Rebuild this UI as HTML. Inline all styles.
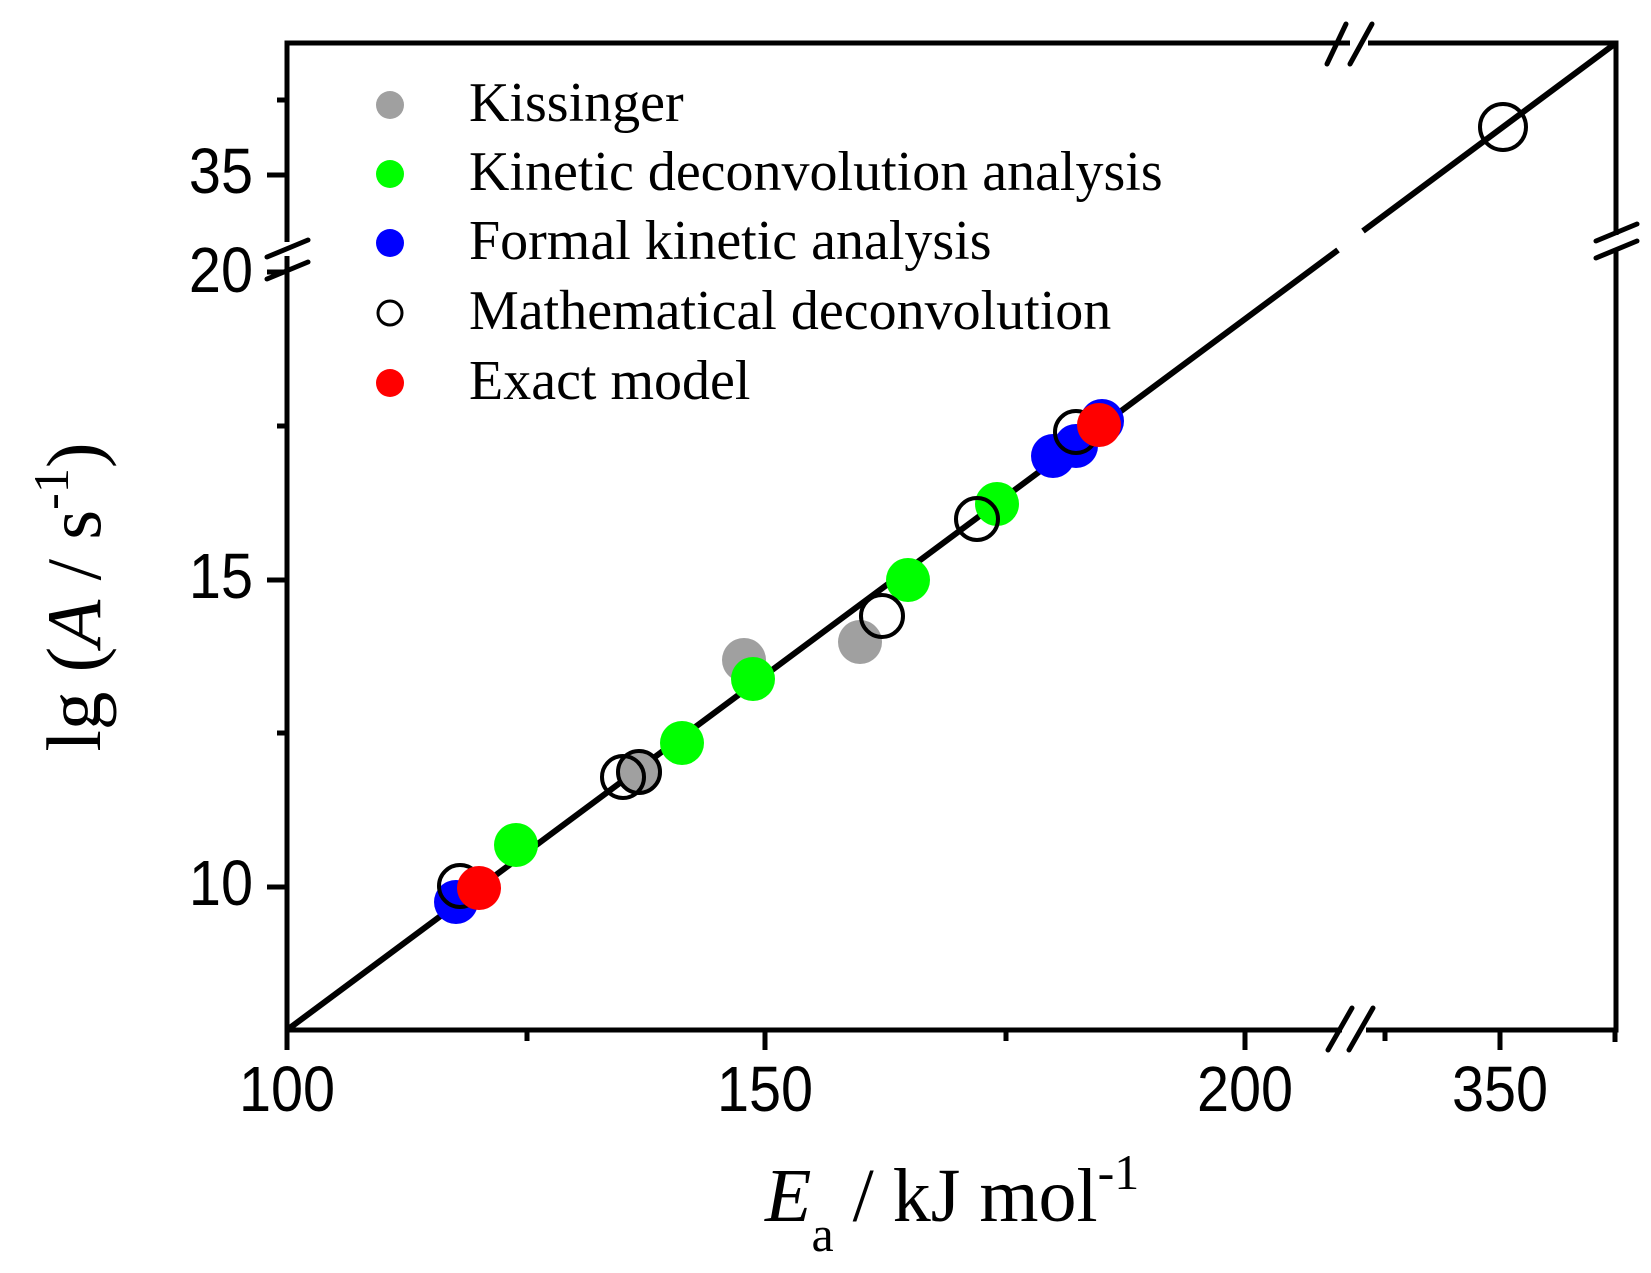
<!DOCTYPE html>
<html><head><meta charset="utf-8"><style>html,body{margin:0;padding:0;background:#fff}svg{display:block}</style></head>
<body>
<svg width="1651" height="1273" viewBox="0 0 1651 1273" xmlns="http://www.w3.org/2000/svg">
<rect width="1651" height="1273" fill="#fff"/>
<g stroke="#000" stroke-width="5" fill="none" stroke-linecap="butt">
  <path d="M287,43 H1616 V1030 H287 Z"/>
  <path d="M287,1030 V1050 M765,1030 V1050 M1245,1030 V1050 M1500,1030 V1050 M1615,1030 V1042 M527,1030 V1041 M1006,1030 V1041 M1385,1030 V1041"/>
  <path d="M287,887 H267 M287,580 H267 M287,272 H267 M287,175 H267 M287,100 H277 M287,733 H277 M287,426 H277"/>
</g>
<g stroke="#fff" stroke-width="14">
  <path d="M1342,1030 H1366 M1350,43 H1368 M287,242 V256 M1616,235 V250"/>
</g>
<g stroke="#000" stroke-width="5" stroke-linecap="round">
  <path d="M1328,1050 L1352,1008 M1349,1050 L1373,1008"/>
  <path d="M1327,64 L1346,24 M1350,64 L1372,24"/>
  <path d="M267,257 L308,240 M267,279 L308,262"/>
  <path d="M1596,241 L1637,224 M1596,258 L1637,241"/>
</g>
<g stroke="#000" stroke-width="6" stroke-linecap="butt">
  <path d="M287,1030 L1338,250"/>
  <path d="M1363,231 L1616,43"/>
</g>
<g fill="#a0a0a0">
  <circle cx="640" cy="772" r="22"/><circle cx="744" cy="660" r="22"/><circle cx="860" cy="642" r="22"/>
</g>
<g fill="#00ff00">
  <circle cx="516" cy="845" r="22"/><circle cx="682" cy="743" r="22"/><circle cx="753" cy="679" r="22"/><circle cx="908" cy="580" r="22"/><circle cx="997" cy="504" r="22"/>
</g>
<g fill="#0000ff">
  <circle cx="456" cy="902" r="22"/><circle cx="1053" cy="456" r="22"/><circle cx="1076" cy="446" r="22"/><circle cx="1102" cy="421" r="22"/>
</g>
<g fill="none" stroke="#000" stroke-width="4">
  <circle cx="460" cy="886" r="21"/><circle cx="623" cy="777" r="21"/><circle cx="639" cy="772" r="21"/><circle cx="882" cy="616" r="21"/><circle cx="977" cy="519" r="21"/><circle cx="1076" cy="432" r="21"/><circle cx="1503" cy="127" r="23"/>
</g>
<g fill="#ff0000">
  <circle cx="479" cy="888" r="22"/><circle cx="1099" cy="425" r="22"/>
</g>
<circle cx="390" cy="105" r="14" fill="#a0a0a0"/>
<circle cx="390" cy="174" r="14" fill="#00ff00"/>
<circle cx="390" cy="243" r="14" fill="#0000ff"/>
<circle cx="390" cy="313" r="12" fill="none" stroke="#000" stroke-width="3"/>
<circle cx="390" cy="383" r="14" fill="#ff0000"/>
<g font-family="'Liberation Serif', serif" font-size="56" fill="#000">
  <text x="469" y="121">Kissinger</text>
  <text x="469" y="190">Kinetic deconvolution analysis</text>
  <text x="469" y="259">Formal kinetic analysis</text>
  <text x="469" y="329">Mathematical deconvolution</text>
  <text x="469" y="399">Exact model</text>
</g>
<g font-family="'Liberation Sans', sans-serif" font-size="64" fill="#000" text-anchor="middle">
  <text transform="translate(287,1111) scale(0.9,1)">100</text>
  <text transform="translate(765,1111) scale(0.9,1)">150</text>
  <text transform="translate(1245,1111) scale(0.9,1)">200</text>
  <text transform="translate(1500,1111) scale(0.9,1)">350</text>
</g>
<g font-family="'Liberation Sans', sans-serif" font-size="64" fill="#000" text-anchor="end">
  <text transform="translate(253,905) scale(0.9,1)">10</text>
  <text transform="translate(253,598) scale(0.9,1)">15</text>
  <text transform="translate(253,292) scale(0.9,1)">20</text>
  <text transform="translate(253,193) scale(0.9,1)">35</text>
</g>
<g font-family="'Liberation Serif', serif" fill="#000">
  <text x="765" y="1221" font-size="76"><tspan font-style="italic">E</tspan><tspan font-size="50" dy="30">a</tspan><tspan dy="-30"> / kJ mol</tspan><tspan font-size="50" dy="-32">-1</tspan></text>
  <text transform="translate(100,597) rotate(-90)" text-anchor="middle" font-size="77">lg (<tspan font-style="italic">A</tspan> / s<tspan font-size="50" dy="-32">-1</tspan><tspan dy="32">)</tspan></text>
</g>
</svg>
</body></html>
